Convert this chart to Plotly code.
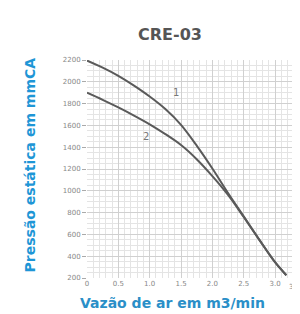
import plotly.graph_objects as go

flow_1 = [0, 0.25, 0.5, 0.75, 1.0, 1.25, 1.5, 1.75, 2.0, 2.25, 2.5, 2.75, 3.0, 3.18]
pressure_1 = [2195, 2130, 2055, 1965, 1865, 1750, 1605, 1415, 1205, 980, 765, 550, 345, 225]
flow_2 = [0, 0.25, 0.5, 0.75, 1.0, 1.25, 1.5, 1.75, 2.0, 2.25, 2.5, 2.75, 3.0, 3.18]
pressure_2 = [1900, 1835, 1765, 1690, 1610, 1520, 1420, 1290, 1135, 962, 760, 550, 345, 225]

x_ticks = [0, 0.5, 1.0, 1.5, 2.0, 2.5, 3.0]
x_labels = ["0", "0.5", "1.0", "1.5", "2.0", "2.5", "3.0"]
y_ticks = [200, 400, 600, 800, 1000, 1200, 1400, 1600, 1800, 2000, 2200]

fig = go.Figure()
fig.add_trace(go.Scatter(x=flow_1, y=pressure_1, mode="lines",
                         line=dict(color="#5a5a5a", width=2, shape="spline", smoothing=0.9), showlegend=False))
fig.add_trace(go.Scatter(x=flow_2, y=pressure_2, mode="lines",
                         line=dict(color="#5a5a5a", width=2, shape="spline", smoothing=0.9), showlegend=False))

fig.add_annotation(x=1.42, y=1900, text="1", showarrow=False, font=dict(family="DejaVu Sans", size=10, color="#777"))
fig.add_annotation(x=0.94, y=1500, text="2", showarrow=False, font=dict(family="DejaVu Sans", size=10, color="#777"))

# last x tick label, kept inside the page
fig.add_annotation(x=0.975, xref="paper", y=-0.04, yref="paper", yanchor="middle", xanchor="right",
                   text="3.5", showarrow=False, font=dict(family="DejaVu Sans", size=7, color="#888"))

# axis titles
fig.add_annotation(xref="paper", yref="paper", x=0.39, y=-0.115, xanchor="center", yanchor="middle",
                   text="<b>Vazão de ar em m3/min</b>", showarrow=False,
                   font=dict(family="DejaVu Sans", size=14, color="#2a8fc8"))
fig.add_annotation(xref="paper", yref="paper", x=-0.26, y=0.52, xanchor="center", yanchor="middle",
                   text="<b>Pressão estática em mmCA</b>", showarrow=False, textangle=-90,
                   font=dict(family="DejaVu Sans", size=14, color="#1e96d6"))

fig.update_layout(
    width=300, height=314,
    margin=dict(l=79, r=1, t=52, b=44),
    paper_bgcolor="white", plot_bgcolor="white",
    title=dict(text="<b>CRE-03</b>", x=0.54, xanchor="center", y=0.915, yanchor="middle",
               font=dict(family="DejaVu Sans", size=16, color="#555")),
    xaxis=dict(range=[0, 3.51], tickvals=x_ticks, ticktext=x_labels, showgrid=True,
               gridcolor="#d0d0d0", gridwidth=1, zeroline=False, showline=False,
               tickfont=dict(family="DejaVu Sans", size=7, color="#888"),
               minor=dict(dtick=0.1, showgrid=True, gridcolor="#e4e4e4", gridwidth=1)),
    yaxis=dict(range=[200, 2200], tickvals=y_ticks, tickformat="d", showgrid=True,
               gridcolor="#d0d0d0", gridwidth=1, zeroline=False, showline=False,
               ticks="outside", ticklen=4, tickcolor="#aaa",
               tickfont=dict(family="DejaVu Sans", size=7, color="#888"),
               minor=dict(dtick=50, showgrid=True, gridcolor="#e4e4e4", gridwidth=1)),
)

fig.write_html("out.html")
